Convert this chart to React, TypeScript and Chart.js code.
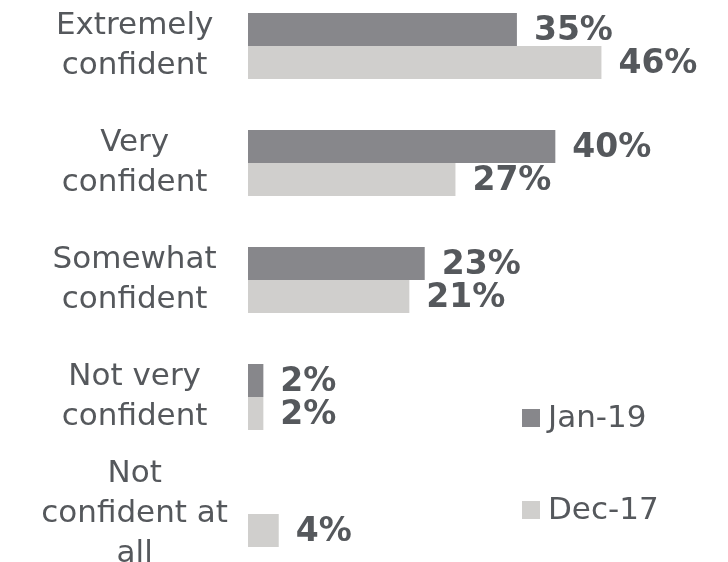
import React, { useEffect, useRef } from "react";
import { Chart, registerables } from "chart.js";

Chart.register(...registerables);

const categories: string[][] = [
  ["Extremely", "confident"],
  ["Very", "confident"],
  ["Somewhat", "confident"],
  ["Not very", "confident"],
  ["Not", "confident at", "all"],
];
const seriesNames = ["Jan-19", "Dec-17"];
const jan19: (number | null)[] = [35, 40, 23, 2, null];
const dec17: (number | null)[] = [46, 27, 21, 2, 4];

const DARK = "#87878b";
const LIGHT = "#d0cfcd";
const TEXT = "#55585c";
const FONT = "'DejaVu Sans', Verdana, sans-serif";

const valueLabels = {
  id: "valueLabels",
  afterDatasetsDraw(chart: any) {
    const ctx = chart.ctx;
    ctx.save();
    ctx.font = `bold 33px ${FONT}`;
    ctx.fillStyle = TEXT;
    ctx.textAlign = "left";
    ctx.textBaseline = "middle";
    chart.data.datasets.forEach((ds: any, di: number) => {
      const meta = chart.getDatasetMeta(di);
      meta.data.forEach((el: any, i: number) => {
        const v = ds.data[i];
        if (v === null || v === undefined) return;
        ctx.fillText(`${v}%`, el.x + 17, el.y + 2);
      });
    });
    ctx.restore();
  },
};

const sideLegend = {
  id: "sideLegend",
  afterDraw(chart: any) {
    const ctx = chart.ctx;
    ctx.save();
    ctx.font = `31px ${FONT}`;
    ctx.textAlign = "left";
    ctx.textBaseline = "middle";
    const x0 = chart.chartArea.left + 274;
    const y0 = chart.chartArea.top + 363;
    chart.data.datasets.forEach((ds: any, i: number) => {
      const y = y0 + i * 92;
      ctx.fillStyle = ds.backgroundColor;
      ctx.fillRect(x0, y, 18, 18);
      ctx.fillStyle = TEXT;
      ctx.fillText(ds.label, x0 + 26, y + 10);
    });
    ctx.restore();
  },
};

export default function App() {
  const ref = useRef<HTMLCanvasElement | null>(null);
  useEffect(() => {
    if (!ref.current) return;
    const chart = new Chart(ref.current, {
      type: "bar",
      data: {
        labels: categories,
        datasets: [
          { label: seriesNames[0], data: jan19, backgroundColor: DARK, clip: false as any },
          { label: seriesNames[1], data: dec17, backgroundColor: LIGHT, clip: false as any },
        ],
      },
      options: {
        indexAxis: "y",
        animation: false,
        responsive: true,
        maintainAspectRatio: false,
        layout: { padding: { top: 46, bottom: 48, left: 0, right: 19 } },
        datasets: {
          bar: { barPercentage: 1, categoryPercentage: 66 / 117 },
        },
        plugins: {
          legend: { display: false },
          tooltip: { enabled: false },
        },
        scales: {
          x: { display: false, min: 0, max: 60 },
          y: {
            offset: false,
            grid: { display: false },
            border: { display: false },
            ticks: {
              autoSkip: false,
              crossAlign: "center",
              padding: 12,
              color: TEXT,
              font: { family: FONT, size: 31, lineHeight: 1.29 },
            },
            afterFit(scale: any) {
              scale.width = 248;
              scale.paddingTop = 0;
              scale.paddingBottom = 0;
            },
          },
        },
      },
      plugins: [valueLabels, sideLegend],
    });
    return () => chart.destroy();
  }, []);
  return (
    <div style={{ position: "absolute", left: 0, top: 0, width: 728, height: 562, background: "#fff" }}>
      <canvas ref={ref} />
    </div>
  );
}
